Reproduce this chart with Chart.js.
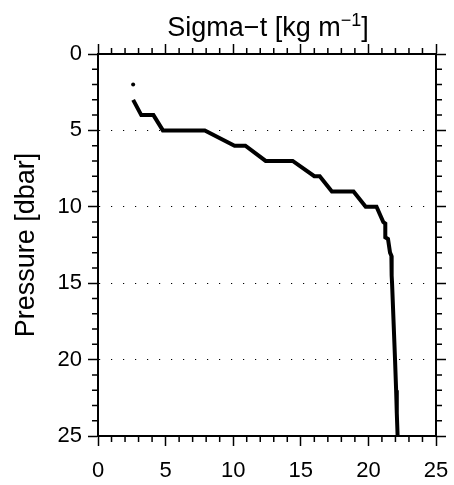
<!DOCTYPE html>
<html>
<head>
<meta charset="utf-8">
<script src="https://cdn.jsdelivr.net/npm/chart.js@4"></script>
<style>
  html, body { margin: 0; padding: 0; background: #fff; }
  canvas { display: block; }
</style>
</head>
<body>
<canvas id="chart" width="454" height="485"></canvas>
<script>
// sigma-t profile
const sigmaT   = [2.6, 3.2, 4.1, 4.8, 7.9, 10.1, 10.9, 12.4, 14.4, 16.0, 16.4, 17.3, 18.9, 19.8, 20.6, 21.1, 21.25, 21.25, 21.45, 21.6, 21.7, 21.72, 21.75, 21.86, 21.97, 22.05, 22.1, 22.16];
const pressure = [3, 4, 4, 5, 5, 6, 6, 7, 7, 8, 8, 9, 9, 10, 10, 11, 11.1, 12, 12.1, 13, 13.2, 14.5, 15, 17.5, 20, 22, 23.5, 25];

// lone reading above the line
const sigmaTop    = [2.6];
const pressureTop = [2];

// axes
const xRange = [0, 25];
const yRange = [0, 25];
const majorStep = 5;
const minorStep = 1;

const titleParts = ['Sigma\u2212t [kg m', '\u22121', ']'];
const yTitle = 'Pressure [dbar]';

const FONT = '"Liberation Sans", Arial, Helvetica, sans-serif';

const toPoints = (xs, ys) => xs.map((v, i) => ({ x: v, y: ys[i] }));

// short ticks between the labelled ones, on all four sides
const minorTicks = {
    id: 'minorTicks',
    afterDraw(chart) {
        const { ctx, chartArea: a, scales: { x, y } } = chart;
        ctx.save();
        ctx.strokeStyle = '#000';
        ctx.lineWidth = 1.5;
        ctx.beginPath();
        for (let v = xRange[0]; v <= xRange[1]; v += minorStep) {
            if (v % majorStep === 0) continue;
            const px = x.getPixelForValue(v);
            ctx.moveTo(px, a.bottom); ctx.lineTo(px, a.bottom + 6);
            ctx.moveTo(px, a.top); ctx.lineTo(px, a.top - 6);
        }
        for (let v = yRange[0]; v <= yRange[1]; v += minorStep) {
            if (v % majorStep === 0) continue;
            const py = y.getPixelForValue(v);
            ctx.moveTo(a.left, py); ctx.lineTo(a.left - 6, py);
            ctx.moveTo(a.right, py); ctx.lineTo(a.right + 6, py);
        }
        ctx.stroke();
        ctx.restore();
    }
};

// title with a superscript exponent
const sigmaTitle = {
    id: 'sigmaTitle',
    afterDraw(chart) {
        const { ctx, chartArea: a } = chart;
        const mainFont = '27px ' + FONT;
        const supFont = '18px ' + FONT;
        ctx.save();
        ctx.fillStyle = '#000';
        ctx.textBaseline = 'alphabetic';
        ctx.textAlign = 'left';
        ctx.font = mainFont;
        const w1 = ctx.measureText(titleParts[0]).width;
        const w3 = ctx.measureText(titleParts[2]).width;
        ctx.font = supFont;
        const w2 = ctx.measureText(titleParts[1]).width;
        let x0 = (a.left + a.right) / 2 - (w1 + w2 + w3) / 2 + 1;
        const base = a.top - 18;
        ctx.font = mainFont;
        ctx.fillText(titleParts[0], x0, base);
        x0 += w1;
        ctx.font = supFont;
        ctx.fillText(titleParts[1], x0, base - 10);
        x0 += w2;
        ctx.font = mainFont;
        ctx.fillText(titleParts[2], x0, base);
        ctx.restore();
    }
};

new Chart(document.getElementById('chart'), {
    type: 'scatter',
    data: {
        datasets: [
            {
                data: toPoints(sigmaT, pressure),
                showLine: true,
                borderColor: '#000',
                borderWidth: 4,
                pointRadius: 0,
                fill: false
            },
            {
                data: toPoints(sigmaTop, pressureTop),
                backgroundColor: '#000',
                borderColor: '#000',
                pointRadius: 2,
                borderWidth: 0
            }
        ]
    },
    options: {
        responsive: false,
        animation: false,
        devicePixelRatio: 1,
        layout: { padding: { top: 54, right: 18, left: 0, bottom: 0 } },
        plugins: {
            legend: { display: false },
            tooltip: { enabled: false }
        },
        scales: {
            x: {
                type: 'linear',
                position: 'bottom',
                min: xRange[0],
                max: xRange[1],
                afterFit: s => { s.height = 49; },
                // tall line box puts the labels low without a big padding
                ticks: { stepSize: majorStep, color: '#000', font: { family: FONT, size: 22, lineHeight: 2.2 }, padding: 1, maxRotation: 0 },
                grid: { drawOnChartArea: false, tickLength: 10, tickColor: '#000', tickWidth: 1.5 },
                border: { color: '#000', width: 2 }
            },
            xTop: {
                type: 'linear',
                position: 'top',
                min: xRange[0],
                max: xRange[1],
                afterFit: s => { s.height = 0; },
                ticks: { stepSize: majorStep, display: false },
                grid: { drawOnChartArea: false, tickLength: 10, tickColor: '#000', tickWidth: 1.5 },
                border: { color: '#000', width: 2 }
            },
            y: {
                type: 'linear',
                position: 'left',
                reverse: true,
                min: yRange[0],
                max: yRange[1],
                afterFit: s => { s.width = 98; },
                ticks: { stepSize: majorStep, color: '#000', font: { family: FONT, size: 22 }, padding: 6 },
                grid: {
                    color: c => (c.tick && c.tick.value % 25 === 0) ? 'rgba(0,0,0,0)' : '#000',
                    lineWidth: 1,
                    tickLength: 10,
                    tickColor: '#000',
                    tickWidth: 1.5
                },
                border: { color: '#000', width: 2, dash: [1.2, 10.8] },
                title: {
                    display: true,
                    text: yTitle,
                    color: '#000',
                    font: { family: FONT, size: 27, lineHeight: 1 },
                    padding: { top: 13, bottom: 0 }
                }
            },
            yRight: {
                type: 'linear',
                position: 'right',
                reverse: true,
                min: yRange[0],
                max: yRange[1],
                afterFit: s => { s.width = 0; },
                ticks: { stepSize: majorStep, display: false },
                grid: { drawOnChartArea: false, tickLength: 10, tickColor: '#000', tickWidth: 1.5 },
                border: { color: '#000', width: 2 }
            }
        }
    },
    plugins: [minorTicks, sigmaTitle]
});
</script>
</body>
</html>
